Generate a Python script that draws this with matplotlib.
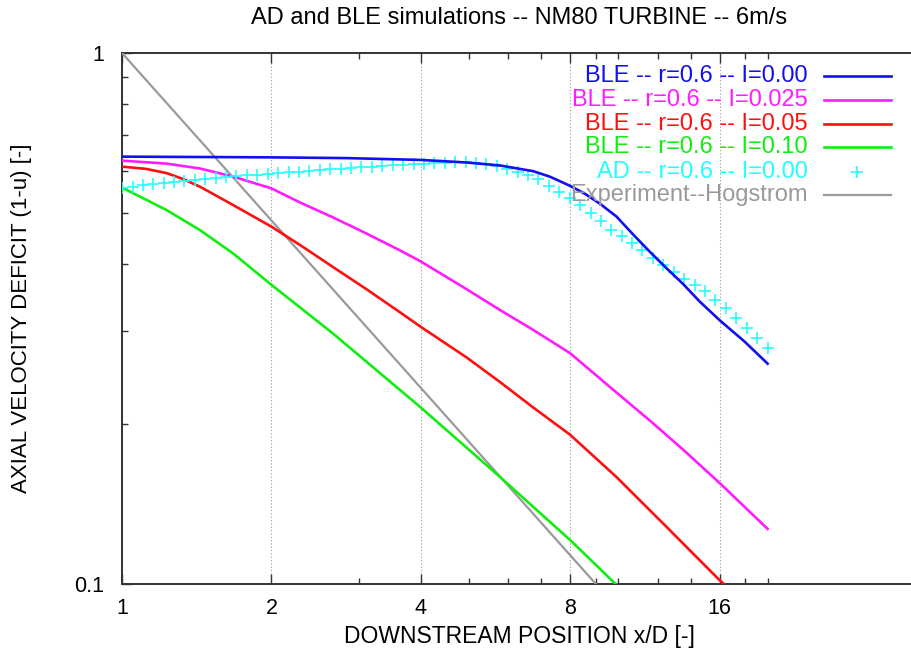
import matplotlib
matplotlib.use('Agg')
import matplotlib.pyplot as plt
from matplotlib.lines import Line2D
from matplotlib.ticker import FixedLocator, NullFormatter, FixedFormatter

plt.rcParams['font.family'] = ['Liberation Sans', 'DejaVu Sans']

# ---------------- data ----------------
title = "AD and BLE simulations -- NM80 TURBINE -- 6m/s"
xlabel = "DOWNSTREAM POSITION x/D [-]"
ylabel = "AXIAL VELOCITY DEFICIT (1-u) [-]"

x_major = [1, 2, 4, 8, 16]
x_major_labels = ["1", "2", "4", "8", "16"]
x_minor = [3, 5, 6, 7, 9, 10, 12, 14, 18, 20]
y_major = [0.1, 1]
y_major_labels = ["0.1", "1"]
y_minor = [0.2, 0.3, 0.4, 0.5, 0.6, 0.7, 0.8, 0.9]

ble000_x = [1.0, 1.436, 2, 2.827, 4, 4.95, 5.78, 6.74, 7.28, 8, 8.57, 9.19, 9.92,
            10.72, 11.59, 12.52, 13.52, 14.61, 16, 17.98, 20]
ble000_y = [0.638, 0.637, 0.636, 0.634, 0.629, 0.622, 0.614, 0.599, 0.585, 0.562,
            0.543, 0.520, 0.492, 0.455, 0.422, 0.393, 0.367, 0.340, 0.314, 0.286,
            0.260]

ble025_x = [1, 1.23, 1.436, 1.676, 2, 2.284, 2.665, 3.11, 3.63, 4, 4.95, 5.78,
            6.74, 8, 9.62, 11.59, 13.52, 16, 20]
ble025_y = [0.627, 0.619, 0.606, 0.585, 0.556, 0.523, 0.490, 0.457, 0.425, 0.405,
            0.359, 0.328, 0.301, 0.272, 0.235, 0.203, 0.179, 0.155, 0.127]

ble05_x = [1, 1.118, 1.23, 1.327, 1.436, 1.676, 2, 2.284, 2.665, 3.11, 3.63, 4,
           4.95, 5.78, 6.74, 8, 9.92, 12.52, 16, 17.6]
ble05_y = [0.611, 0.605, 0.594, 0.579, 0.560, 0.517, 0.471, 0.435, 0.395, 0.359,
           0.325, 0.305, 0.267, 0.240, 0.215, 0.191, 0.159, 0.128, 0.1017, 0.0941]

ble10_x = [1, 1.23, 1.436, 1.676, 2, 2.665, 4, 5.78, 8, 9.77, 10.56]
ble10_y = [0.558, 0.506, 0.464, 0.419, 0.366, 0.296, 0.215, 0.159, 0.121, 0.101,
           0.0945]

ad_x = [1.000, 1.050, 1.101, 1.156, 1.213, 1.273, 1.336, 1.402, 1.472, 1.545,
        1.621, 1.701, 1.785, 1.874, 1.967, 2.064, 2.166, 2.273, 2.386, 2.504,
        2.628, 2.758, 2.894, 3.038, 3.188, 3.346, 3.511, 3.685, 3.868, 4.059,
        4.260, 4.471, 4.692, 4.924, 5.168, 5.424, 5.692, 5.974, 6.270, 6.580,
        6.906, 7.247, 7.606, 7.983, 8.378, 8.793, 9.228, 9.685, 10.16, 10.67,
        11.19, 11.75, 12.33, 12.94, 13.58, 14.25, 14.96, 15.70, 16.47, 17.29,
        18.15, 19.04, 19.99]
ad_y = [0.557, 0.560, 0.563, 0.566, 0.569, 0.572, 0.574, 0.577, 0.579, 0.582,
        0.584, 0.586, 0.588, 0.590, 0.592, 0.594, 0.596, 0.598, 0.600, 0.602,
        0.604, 0.606, 0.607, 0.609, 0.611, 0.612, 0.614, 0.615, 0.617, 0.618,
        0.620, 0.621, 0.622, 0.622, 0.621, 0.617, 0.612, 0.605, 0.597, 0.589,
        0.578, 0.562, 0.548, 0.534, 0.517, 0.500, 0.482, 0.465, 0.452, 0.438,
        0.425, 0.411, 0.398, 0.387, 0.376, 0.365, 0.356, 0.343, 0.331, 0.317,
        0.303, 0.290, 0.278]

exp_x = [1, 10]
exp_y = [1.0, 0.0897]

series_labels = ["BLE -- r=0.6 -- I=0.00", "BLE -- r=0.6 -- I=0.025",
                 "BLE -- r=0.6 -- I=0.05", "BLE -- r=0.6 -- I=0.10",
                 "AD -- r=0.6 -- I=0.00", "Experiment--Hogstrom"]
colors = ["#1010f0", "#ff1cff", "#ff1010", "#10ee10", "#22ffff", "#9a9a9a"]

# ---------------- figure ----------------
W, H = 911, 658
fig = plt.figure(figsize=(W / 100, H / 100), dpi=100)
L, R, T, B = 122, 917, 53, 584
ax = fig.add_axes([L / W, 1 - B / H, (R - L) / W, (B - T) / H])
ax.set_xscale('log')
ax.set_yscale('log')
ax.set_xlim(1, 40)
ax.set_ylim(0.1, 1)

ax.plot(ble000_x, ble000_y, color=colors[0], lw=1.9, zorder=5)
ax.plot(ble025_x, ble025_y, color=colors[1], lw=1.9, zorder=4)
ax.plot(ble05_x, ble05_y, color=colors[2], lw=1.9, zorder=4)
ax.plot(ble10_x, ble10_y, color=colors[3], lw=1.9, zorder=4)
ax.plot(ad_x, ad_y, linestyle='none', marker='+', ms=8, mew=1.2,
        color=colors[4], zorder=4)
ax.plot(exp_x, exp_y, color=colors[5], lw=1.6, zorder=3)

ax.xaxis.set_major_locator(FixedLocator(x_major))
ax.xaxis.set_major_formatter(FixedFormatter(x_major_labels))
ax.xaxis.set_minor_locator(FixedLocator(x_minor))
ax.xaxis.set_minor_formatter(NullFormatter())
ax.yaxis.set_major_locator(FixedLocator(y_major))
ax.yaxis.set_major_formatter(FixedFormatter(y_major_labels))
ax.yaxis.set_minor_locator(FixedLocator(y_minor))
ax.yaxis.set_minor_formatter(NullFormatter())

ax.tick_params(which='both', direction='in', top=True, right=False,
               color='#333333', labelsize=15.5, width=1.0)
ax.tick_params(which='major', length=7)
ax.tick_params(which='minor', length=4)
ax.tick_params(axis='x', pad=10)
ax.tick_params(axis='y', pad=13)

ax.xaxis.grid(True, which='major', linestyle=(0, (1, 2)), color='#999999', lw=0.8)
for s in ['left', 'bottom', 'top']:
    ax.spines[s].set_color('#333333')
    ax.spines[s].set_linewidth(1.4)
ax.spines['right'].set_visible(False)

fig.text(519 / W, 1 - 18 / H, title, ha='center', va='center', fontsize=17)
fig.text(519 / W, 1 - 637 / H, xlabel, ha='center', va='center', fontsize=16.5)
fig.text(22 / W, 1 - 318 / H, ylabel, ha='center', va='center', fontsize=16,
         rotation=90)

# legend (manual, gnuplot style)
rows = [76, 99.5, 123.5, 147.5, 171.5, 195]
for i, (lab, c) in enumerate(zip(series_labels, colors)):
    yy = 1 - rows[i] / H
    fig.text(808 / W, yy, lab, ha='right', va='center', fontsize=17, color=c,
             zorder=2)
    if i == 4:
        fig.add_artist(Line2D([857 / W], [yy], marker='+', ms=8, mew=1.2,
                              color=c, linestyle='none'))
    else:
        fig.add_artist(Line2D([824 / W, 891 / W], [yy, yy], color=c,
                              lw=1.9 if i < 4 else 1.6))

fig.savefig('out.png', dpi=100)
